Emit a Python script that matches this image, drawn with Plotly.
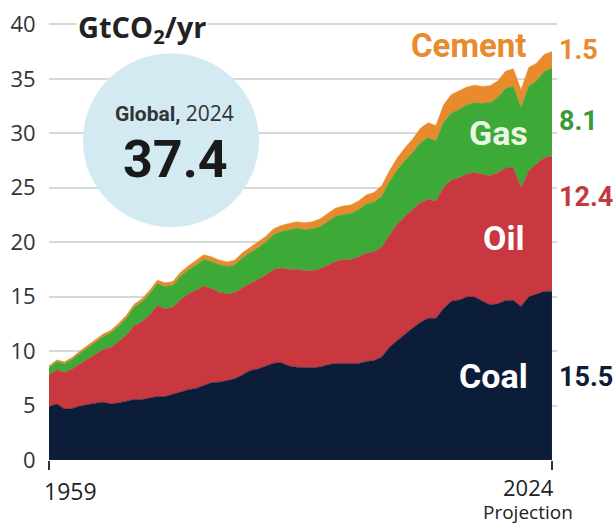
import plotly.graph_objects as go

years = list(range(1959, 2025))
coal = [4.89, 5.14, 4.69, 4.73, 4.95, 5.12, 5.22, 5.30, 5.17, 5.23,
        5.39, 5.56, 5.55, 5.67, 5.83, 5.82, 6.03, 6.23, 6.46, 6.57,
        6.86, 7.11, 7.15, 7.32, 7.45, 7.80, 8.22, 8.35, 8.65, 8.89,
        8.93, 8.64, 8.51, 8.47, 8.48, 8.53, 8.74, 8.87, 8.88, 8.84,
        8.86, 9.04, 9.13, 9.46, 10.36, 10.96, 11.58, 12.12, 12.64, 13.01,
        13.01, 13.91, 14.58, 14.68, 14.96, 14.96, 14.59, 14.25, 14.35, 14.65,
        14.66, 14.10, 14.98, 15.23, 15.48, 15.50]
oil = [2.93, 3.15, 3.35, 3.63, 3.89, 4.18, 4.48, 4.83, 5.19, 5.64,
       6.08, 6.76, 7.14, 7.65, 8.35, 8.07, 7.98, 8.50, 8.78, 9.01,
       9.11, 8.64, 8.25, 7.93, 7.91, 8.01, 7.95, 8.23, 8.31, 8.60,
       8.71, 8.85, 9.01, 8.92, 8.91, 9.01, 9.17, 9.35, 9.53, 9.58,
       9.79, 9.94, 10.00, 10.08, 10.31, 10.68, 10.79, 10.85, 11.01, 10.93,
       10.76, 11.12, 11.14, 11.23, 11.31, 11.43, 11.63, 11.85, 12.02, 12.17,
       12.15, 10.91, 11.56, 11.97, 12.28, 12.40]
gas = [0.66, 0.74, 0.80, 0.88, 0.97, 1.05, 1.13, 1.22, 1.32, 1.44,
       1.57, 1.71, 1.83, 1.94, 2.00, 2.05, 2.04, 2.15, 2.20, 2.30,
       2.45, 2.48, 2.53, 2.52, 2.55, 2.77, 2.88, 2.91, 3.06, 3.20,
       3.33, 3.66, 3.76, 3.77, 3.82, 3.87, 3.96, 4.14, 4.14, 4.21,
       4.33, 4.53, 4.57, 4.70, 4.87, 5.00, 5.13, 5.26, 5.47, 5.66,
       5.52, 5.99, 6.15, 6.28, 6.35, 6.42, 6.53, 6.71, 6.92, 7.30,
       7.51, 7.36, 7.81, 7.62, 7.91, 8.10]
cement = [0.15, 0.16, 0.17, 0.18, 0.19, 0.20, 0.21, 0.22, 0.23, 0.24,
          0.26, 0.27, 0.29, 0.31, 0.33, 0.33, 0.33, 0.36, 0.38, 0.41,
          0.42, 0.43, 0.43, 0.42, 0.43, 0.45, 0.46, 0.48, 0.50, 0.53,
          0.55, 0.57, 0.59, 0.62, 0.66, 0.71, 0.75, 0.76, 0.78, 0.78,
          0.81, 0.83, 0.87, 0.93, 1.01, 1.08, 1.16, 1.25, 1.34, 1.37,
          1.43, 1.59, 1.68, 1.70, 1.62, 1.61, 1.55, 1.56, 1.51, 1.57,
          1.61, 1.63, 1.68, 1.62, 1.57, 1.50]

series_names = ["Coal", "Oil", "Gas", "Cement"]
series_vals = [coal, oil, gas, cement]
series_colors = ["#0c1d3a", "#c9373f", "#3daa38", "#e98a2c"]
label_colors = ["#ffffff", "#ffffff", "#eaf6e4", "#e88a2e"]
end_labels = ["15.5", "12.4", "8.1", "1.5"]
end_colors = ["#0c1d3a", "#c23a40", "#3a9a3a", "#e88a2e"]
ytick_vals = [0, 5, 10, 15, 20, 25, 30, 35, 40]
total_2024 = "37.4"

W, H = 613, 523
Y_TOP = 40.4
PX_PER_UNIT = (460 - 24) / 40.0
PL, PR, PB = 49, 557, 460
PT = PB - Y_TOP * PX_PER_UNIT
L, R, T, B = PL, W - PR, PT, H - PB
PW, PH = PR - PL, PB - PT

def px(x):
    return (x - PL) / PW

def py(y):
    return (PB - y) / PH

BOLD = "Roboto, Noto Sans, sans-serif"
SANS = "Open Sans, Noto Sans, sans-serif"

fig = go.Figure()
for name, vals, col in zip(series_names, series_vals, series_colors):
    fig.add_trace(go.Scatter(
        x=years, y=vals, name=name, mode="lines", stackgroup="one",
        line=dict(width=0.5, color=col), fillcolor=col, hoverinfo="x+y+name"))

annotations = [
    dict(text="<b>GtCO<sub>2</sub>/yr</b>", x=px(142), y=py(28), xanchor="center",
         yanchor="middle", font=dict(family=SANS, size=29, color="#222222"),
         bgcolor="white", borderpad=1),
    dict(text="<b>Global,</b> <span style='font-family:Open Sans'>2024</span>",
         x=px(174), y=py(113), xanchor="center", yanchor="middle",
         font=dict(family=BOLD, size=21, color="#333333")),
    dict(text="<b>" + total_2024 + "</b>", x=px(175), y=py(159), xanchor="center",
         yanchor="middle", font=dict(family=BOLD, size=52, color="#1a1a1a")),
    dict(text="<b>Cement</b>", x=px(468), y=py(45), xanchor="center", yanchor="middle",
         font=dict(family=BOLD, size=33, color=label_colors[3])),
    dict(text="<b>Gas</b>", x=px(498), y=py(133), xanchor="center", yanchor="middle",
         font=dict(family=BOLD, size=34, color=label_colors[2])),
    dict(text="<b>Oil</b>", x=px(503), y=py(238), xanchor="center", yanchor="middle",
         font=dict(family=BOLD, size=34, color=label_colors[1])),
    dict(text="<b>Coal</b>", x=px(493), y=py(376), xanchor="center", yanchor="middle",
         font=dict(family=BOLD, size=34, color=label_colors[0])),
    dict(text="1959", x=px(70), y=py(491), xanchor="center", yanchor="middle",
         font=dict(family=SANS, size=23, color="#222222")),
    dict(text="2024", x=px(528), y=py(487), xanchor="center", yanchor="middle",
         font=dict(family=SANS, size=22, color="#222222")),
    dict(text="Projection", x=px(528), y=py(512), xanchor="center", yanchor="middle",
         font=dict(family=SANS, size=19, color="#222222")),
]
end_y = [377, 197, 121, 50]
for lab, col, yy in zip(end_labels, end_colors, end_y):
    annotations.append(dict(text="<b>" + lab + "</b>", x=px(557), y=py(yy),
                            xanchor="left", yanchor="middle",
                            font=dict(family=BOLD, size=27, color=col)))
for a in annotations:
    a.update(xref="paper", yref="paper", showarrow=False)

shapes = [dict(type="circle", xref="paper", yref="paper",
               x0=px(171 - 88), x1=px(171 + 88), y0=py(140 + 87), y1=py(140 - 87),
               fillcolor="#d4eaf3", line=dict(width=0), layer="above")]

fig.update_layout(
    width=W, height=H, margin=dict(l=L, r=R, t=T, b=B, autoexpand=False),
    paper_bgcolor="white", plot_bgcolor="white", showlegend=False,
    annotations=annotations, shapes=shapes,
    xaxis=dict(range=[1959, 2024.65], showgrid=False, zeroline=False, automargin=False,
               tickvals=[1959, 2024], ticks="outside", ticklen=9, tickwidth=1.5,
               tickcolor="#333333", showticklabels=False, showline=False),
    yaxis=dict(range=[0, Y_TOP], tickvals=ytick_vals, showgrid=True, automargin=False,
               gridcolor="#d8d8d8", gridwidth=1.5, zeroline=False,
               ticks="outside", ticklen=8, tickcolor="rgba(0,0,0,0)",
               ticklabeloverflow="allow",
               tickfont=dict(family=SANS, size=22, color="#333333")),
)

fig.write_html(
    "out.html",
    config={"displayModeBar": False},
    post_script="document.body.style.margin='0';document.body.style.overflow='hidden';",
)
